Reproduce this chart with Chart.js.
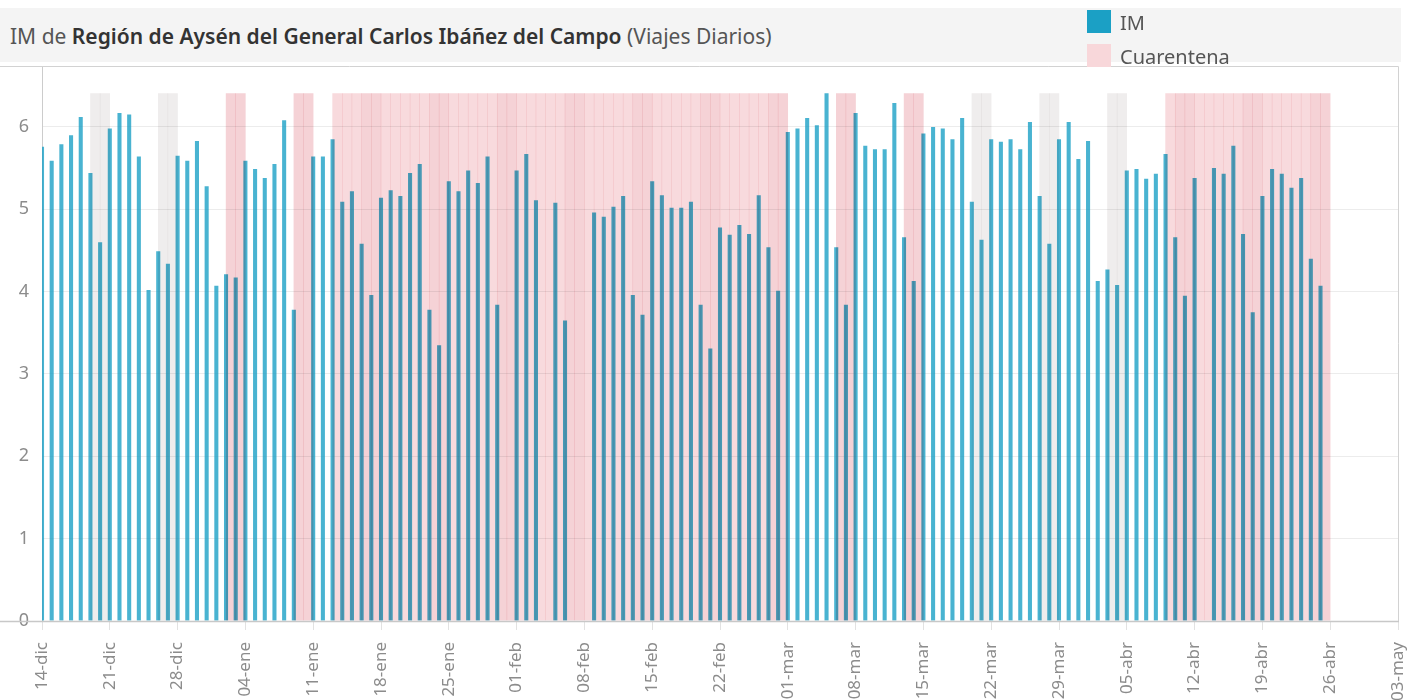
<!DOCTYPE html>
<html>
<head>
<meta charset="utf-8">
<script src="https://cdn.jsdelivr.net/npm/chart.js@4.4.1/dist/chart.umd.min.js"></script>
<style>
  body { margin: 0; background: #fff; font-family: "Noto Sans", sans-serif; }
  #wrap { position: relative; width: 1413px; height: 700px; overflow: hidden; }
  #header { position: absolute; left: 0; top: 8px; width: 1401px; height: 54px; background: #f4f4f4; }
  #title { position: absolute; left: 10px; top: 9px; line-height: 54px; font-size: 21px; color: #555; white-space: nowrap; }
  #title b { font-weight: 600; color: #333; }
  canvas { position: absolute; left: 0; top: 0; z-index: 1; }
  #legend { position: absolute; left: 1087px; top: 10px; font-size: 20px; color: #555; z-index: 2; }
  .item { position: relative; height: 34px; width: 300px; }
  .sw { position: absolute; left: 0; top: 0; width: 24px; height: 23px; }
  .lbl { position: absolute; left: 33px; top: 0px; line-height: 26px; }
</style>
</head>
<body>
<div id="wrap">
  <div id="header"></div>
  <div id="title">IM de <b>Región de Aysén del General Carlos Ibáñez del Campo</b> (Viajes Diarios)</div>
  <canvas id="chart" width="1413" height="700"></canvas>
  <div id="legend">
    <div class="item"><div class="sw" style="background:#1ba0c5"></div><div class="lbl">IM</div></div>
    <div class="item"><div class="sw" style="background:#f8d7da"></div><div class="lbl">Cuarentena</div></div>
  </div>
</div>
<script>
// daily IM values from 14-dic-2020 (null = no data that day)
const im = [
  5.76, 5.59, 5.79, 5.90, 6.12, 5.44, 4.60, 5.98, 6.17, 6.15,
  5.64, 4.02, 4.49, 4.34, 5.65, 5.59, 5.83, 5.28, 4.07, 4.21,
  4.17, 5.59, 5.49, 5.38, 5.55, 6.08, 3.78, null, 5.64, 5.64,
  5.85, 5.09, 5.22, 4.58, 3.96, 5.14, 5.23, 5.16, 5.44, 5.55,
  3.78, 3.35, 5.34, 5.22, 5.47, 5.32, 5.64, 3.84, null, 5.47,
  5.67, 5.11, null, 5.08, 3.65, null, null, 4.96, 4.91, 5.03,
  5.16, 3.96, 3.72, 5.34, 5.17, 5.02, 5.02, 5.09, 3.84, 3.31,
  4.78, 4.69, 4.81, 4.70, 5.17, 4.54, 4.01, 5.94, 5.98, 6.11,
  6.02, 6.41, 4.54, 3.84, 6.17, 5.77, 5.73, 5.73, 6.29, 4.66,
  4.13, 5.92, 6.00, 5.98, 5.85, 6.11, 5.09, 4.63, 5.85, 5.82,
  5.85, 5.73, 6.06, 5.16, 4.58, 5.85, 6.06, 5.61, 5.83, 4.13,
  4.27, 4.08, 5.47, 5.49, 5.37, 5.43, 5.67, 4.66, 3.95, 5.38,
  null, 5.50, 5.43, 5.77, 4.70, 3.75, 5.16, 5.49, 5.43, 5.26,
  5.38, 4.40, 4.07
];

// quarantine periods (pink) and non-quarantine weekends (grey)
const cuarentena = [
  ['2021-01-02', '2021-01-03'],
  ['2021-01-09', '2021-01-10'],
  ['2021-01-13', '2021-02-28'],
  ['2021-03-06', '2021-03-07'],
  ['2021-03-13', '2021-03-14'],
  ['2021-04-09', '2021-04-25']
];
const finDeSemana = [
  ['2020-12-19', '2020-12-20'],
  ['2020-12-26', '2020-12-27'],
  ['2021-03-20', '2021-03-21'],
  ['2021-03-27', '2021-03-28'],
  ['2021-04-03', '2021-04-04']
];

// axis ticks, one every 7 days
const tickLabels = ['14-dic', '21-dic', '28-dic', '04-ene', '11-ene', '18-ene', '25-ene',
  '01-feb', '08-feb', '15-feb', '22-feb', '01-mar', '08-mar', '15-mar', '22-mar',
  '29-mar', '05-abr', '12-abr', '19-abr', '26-abr', '03-may'];

const startDay = Date.UTC(2020, 11, 14);
const dayMs = 86400000;
const days = [];
for (let i = 0; i <= 140; i++) {
  days.push(new Date(startDay + i * dayMs).toISOString().slice(0, 10));
}
const bandDays = days.slice(0, 140);

function inRanges(d, ranges) {
  return ranges.some(r => d >= r[0] && d <= r[1]);
}
function isWeekend(d) {
  const w = new Date(d + 'T00:00:00Z').getUTCDay();
  return w === 0 || w === 6;
}

const bandTop = Math.max(...im.filter(v => v !== null));
const pinkBand = bandDays.map(d => inRanges(d, cuarentena) ? bandTop : null);
const pinkColors = bandDays.map(d => isWeekend(d) ? '#f5d2d6' : '#f8dadd');
const greyBand = bandDays.map(d => inRanges(d, finDeSemana) ? bandTop : null);

// the shaded bands are multiplied over the bars, like the original
const blendPlugin = {
  id: 'blend',
  beforeDatasetDraw(chart, args) {
    if (chart.data.datasets[args.index].blend) {
      chart.ctx.save();
      chart.ctx.globalCompositeOperation = 'multiply';
    }
  },
  afterDatasetDraw(chart, args) {
    if (chart.data.datasets[args.index].blend) chart.ctx.restore();
  }
};

const framePlugin = {
  id: 'frame',
  afterDraw(chart) {
    const ctx = chart.ctx;
    const a = chart.chartArea;
    ctx.save();
    ctx.strokeStyle = '#d2d2d2';
    ctx.lineWidth = 1;
    ctx.beginPath();
    ctx.moveTo(0, a.top + 0.5);
    ctx.lineTo(a.right + 0.5, a.top + 0.5);
    ctx.lineTo(a.right + 0.5, a.bottom);
    ctx.stroke();
    ctx.strokeStyle = '#c8c8c8';
    ctx.lineWidth = 1.5;
    ctx.beginPath();
    ctx.moveTo(0, a.bottom + 0.5);
    ctx.lineTo(a.right + 1, a.bottom + 0.5);
    ctx.stroke();
    ctx.restore();
  }
};

const tickFont = { family: '"Noto Sans", sans-serif', size: 17 };

new Chart(document.getElementById('chart'), {
  type: 'bar',
  data: {
    labels: days,
    datasets: [
      {
        label: 'IM',
        data: im,
        xAxisID: 'x',
        backgroundColor: 'rgba(27, 160, 197, 0.8)',
        grouped: false,
        categoryPercentage: 1,
        barPercentage: 0.42,
        order: 2
      },
      {
        label: 'Fin de semana',
        data: greyBand,
        xAxisID: 'xb',
        backgroundColor: '#efeded',
        grouped: false,
        categoryPercentage: 1,
        barPercentage: 1.05,
        blend: true,
        order: 1
      },
      {
        label: 'Cuarentena',
        data: pinkBand,
        xAxisID: 'xb',
        backgroundColor: pinkColors,
        grouped: false,
        categoryPercentage: 1,
        barPercentage: 1.05,
        blend: true,
        order: 0
      }
    ]
  },
  options: {
    responsive: false,
    animation: false,
    layout: { padding: { top: 66, right: 15, left: 0, bottom: 0 } },
    plugins: {
      legend: { display: false },
      tooltip: { enabled: false }
    },
    scales: {
      x: {
        type: 'category',
        offset: false,
        grid: { offset: false, drawOnChartArea: false, drawTicks: true, tickLength: 9, color: '#e2e2e2' },
        border: { display: false },
        ticks: {
          autoSkip: false,
          maxRotation: 90,
          minRotation: 90,
          padding: 12,
          color: '#8c8c8c',
          font: tickFont,
          callback: function(value, index) {
            return index % 7 === 0 ? tickLabels[index / 7] : null;
          }
        },
        afterFit: function(scale) {
          scale.height = 79;
          scale.paddingLeft = 0;
          scale.paddingRight = 0;
        }
      },
      xb: {
        type: 'category',
        labels: bandDays,
        offset: true,
        display: false
      },
      y: {
        min: 0,
        max: 6.74,
        grid: { color: '#ececec', drawTicks: false },
        border: { color: '#cccccc', width: 1 },
        ticks: {
          stepSize: 1,
          includeBounds: false,
          padding: 13,
          color: '#8c8c8c',
          font: { family: '"Noto Sans", sans-serif', size: 18 }
        },
        afterFit: function(scale) { scale.width = 42; }
      }
    }
  },
  plugins: [blendPlugin, framePlugin]
});
</script>
</body>
</html>
